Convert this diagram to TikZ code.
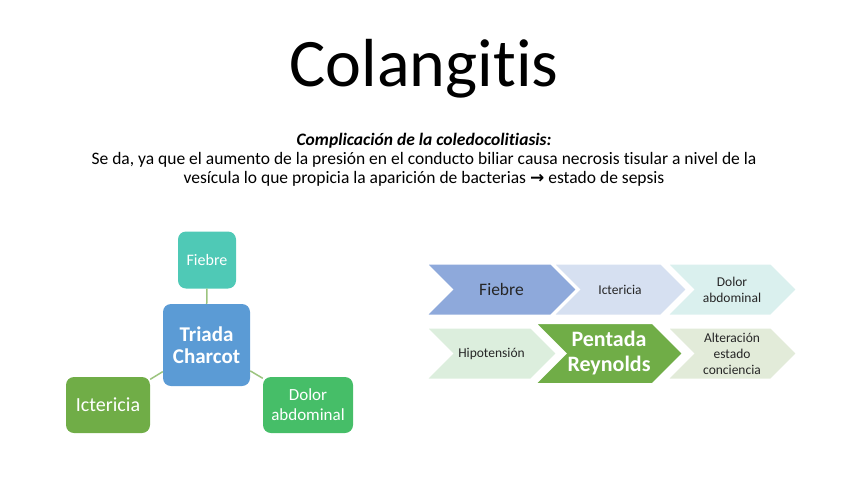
\documentclass[tikz,border=0pt]{standalone}
\usepackage{fontspec}
\setmainfont{Carlito}[Ligatures={NoCommon}]
\newfontfamily\symfont{DejaVu Sans}
\usetikzlibrary{shapes.symbols, positioning}
\definecolor{ctblue}{HTML}{5B9BD5}
\definecolor{ctteal}{HTML}{4FC9B6}
\definecolor{ctgreen}{HTML}{70AD47}
\definecolor{ctmint}{HTML}{46BE68}
\definecolor{ctlink}{HTML}{9CC47F}
\definecolor{chvblue}{HTML}{8EA9DB}
\definecolor{chvpale}{HTML}{D6E0F1}
\definecolor{chvaqua}{HTML}{DAF0EE}
\definecolor{chvleaf}{HTML}{DCEEDD}
\definecolor{chvsage}{HTML}{E2EBD9}
\newcommand{\fsz}[2]{\fontsize{#1}{#2}\selectfont}

\begin{document}
\begin{tikzpicture}[
  x=1pt, y=-1pt,
  tbox/.style={rounded corners=8pt, align=center, text=white,
               inner sep=2pt},
  link/.style={draw=ctlink, line width=1.5pt},
  chev/.style={signal, signal from=west, signal to=east,
               draw=white, line width=2pt, inner sep=0pt,
               align=center, text=black!85,
               minimum height=52pt},
  small/.style={font=\fsz{13.5}{16}}
]
\useasboundingbox (0,0) rectangle (848,477);

% ── Heading ─────────────────────────────────────────────────────────────────
\node[anchor=base, font=\fsz{68}{80}] (title) at (424,86)
  {Colangitis};

\node[anchor=base, font=\fsz{17.5}{19}\bfseries\itshape] (subhead) at (424,145)
  {Complicación de la coledocolitiasis:};
\node[anchor=base, font=\fsz{17.5}{19}] (desc1) at (424,164)
  {Se da, ya que el aumento de la presión en el conducto biliar causa necrosis tisular a nivel de la};
\node[anchor=base, font=\fsz{17.5}{19}] (desc2) at (424,183)
  {vesícula lo que propicia la aparición de bacterias {\symfont\bfseries\fontsize{17}{19}\selectfont →} estado de sepsis};

% ── Triada ──────────────────────────────────────────────────────────────────
\node[tbox, fill=ctteal, minimum width=58pt, minimum height=57pt,
      font=\fsz{16}{19}] (fiebre) at (207,260) {Fiebre};
\node[tbox, fill=ctblue, minimum width=87pt, minimum height=82pt,
      font=\fsz{21}{25}\bfseries] (triada) at (206.5,345)
  {Triada\\[-3pt]Charcot};
\node[tbox, fill=ctgreen, minimum width=84pt, minimum height=56pt,
      font=\fsz{20}{24}] (icter) at (108,405) {Ictericia};
\node[tbox, fill=ctmint, minimum width=90pt, minimum height=56pt,
      font=\fsz{17}{20}] (dolor) at (308,405) {Dolor\\abdominal};

\draw[link] (triada) -- (fiebre);
\draw[link] (triada) -- (icter);
\draw[link] (triada) -- (dolor);

% ── Pentada ─────────────────────────────────────────────────────────────────
\node[chev, fill=chvaqua, minimum width=130pt, small] (dolorR) at (732,289.5)
  {Dolor\\abdominal};
\node[chev, fill=chvpale, minimum width=134pt, small] (icterR) at (620,289.5)
  {Ictericia};
\node[chev, fill=chvblue, minimum width=151pt,
      font=\fsz{17.5}{20}] (fiebreR) at (501.5,289.5) {Fiebre};

\node[chev, fill=chvsage, minimum width=130pt, small] (alter) at (732,353.5)
  {Alteración\\estado\\conciencia};
\node[chev, fill=chvleaf, minimum width=131pt, small] (hipo) at (491.5,353.5)
  {Hipotensión};
\node[chev, fill=ctgreen, minimum width=148pt, minimum height=61pt,
      text=white, font=\fsz{22}{25}\bfseries] (pentada)
  at (609,353.5) {Pentada\\Reynolds};

\end{tikzpicture}
\end{document}
